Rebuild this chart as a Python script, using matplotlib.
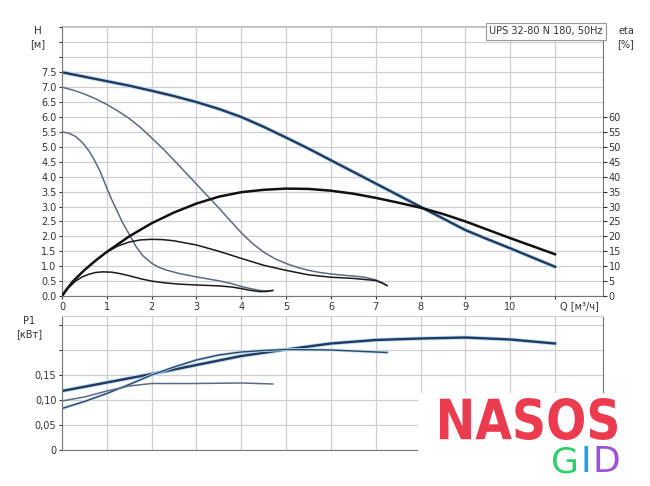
import numpy as np
import matplotlib
matplotlib.use("Agg")
import matplotlib.pyplot as plt
from matplotlib.patches import Rectangle, PathPatch
from matplotlib.textpath import TextPath
from matplotlib.font_manager import FontProperties
from matplotlib.transforms import Affine2D

# Q-H curves, three speeds (Q in m3/h, H in m)
q_max = [0, 0.5, 1, 1.5, 2, 2.5, 3, 3.5, 4, 4.5, 5, 5.5, 6, 6.5, 7, 7.5, 8, 8.5, 9, 9.5, 10, 10.5, 11]
h_max = [7.5, 7.35, 7.2, 7.05, 6.88, 6.7, 6.5, 6.27, 6.0, 5.67, 5.31, 4.94, 4.55, 4.16, 3.77, 3.38,
         2.99, 2.6, 2.21, 1.9, 1.6, 1.29, 0.98]

q_mid = [0, 0.25, 0.5, 0.75, 1, 1.25, 1.5, 1.75, 2, 2.25, 2.5, 2.75, 3, 3.25, 3.5, 3.75, 4, 4.25,
         4.5, 4.75, 5, 5.25, 5.5, 5.75, 6, 6.25, 6.5, 6.75, 7, 7.15, 7.25]
h_mid = [7.0, 6.9, 6.77, 6.61, 6.42, 6.2, 5.95, 5.65, 5.3, 4.94, 4.55, 4.15, 3.75, 3.35, 2.95,
         2.53, 2.12, 1.76, 1.47, 1.25, 1.09, 0.96, 0.86, 0.79, 0.74, 0.70, 0.67, 0.63, 0.54, 0.44, 0.35]

q_low = [0, 0.15, 0.3, 0.45, 0.6, 0.7, 0.85, 1.0, 1.1, 1.22, 1.35, 1.51, 1.65, 1.81, 2.0, 2.15,
         2.33, 2.6, 3.0, 3.5, 3.8, 4.0, 4.2, 4.4, 4.55, 4.7]
h_low = [5.5, 5.46, 5.35, 5.15, 4.87, 4.62, 4.18, 3.62, 3.26, 2.88, 2.46, 2.04, 1.66, 1.34, 1.1,
         0.97, 0.87, 0.76, 0.64, 0.51, 0.41, 0.32, 0.25, 0.19, 0.17, 0.18]

# efficiency curves (%)
q_eta_max = [0, 0.1, 0.25, 0.5, 0.75, 1, 1.5, 2, 2.5, 3, 3.5, 4, 4.5, 5, 5.5, 6, 6.5, 7, 7.5, 8,
             8.5, 9, 9.5, 10, 10.5, 11]
eta_max = [0, 2.2, 5.0, 8.7, 11.9, 14.8, 20.0, 24.4, 28.0, 31.0, 33.3, 34.8, 35.6, 36.0, 35.9,
           35.3, 34.3, 32.9, 31.3, 29.6, 27.5, 25.0, 22.2, 19.4, 16.7, 14.0]

q_eta_mid = [0, 0.1, 0.25, 0.5, 0.75, 1, 1.25, 1.5, 1.75, 2, 2.25, 2.5, 3, 3.5, 4, 4.5, 5, 5.5,
             6, 6.5, 7, 7.15, 7.25]
eta_mid = [0, 2.2, 5.0, 8.7, 11.9, 14.7, 16.8, 18.1, 18.8, 19.0, 18.9, 18.5, 17.1, 15.0, 12.6,
           10.3, 8.6, 7.1, 6.3, 5.9, 5.2, 4.3, 3.5]

q_eta_low = [0, 0.15, 0.3, 0.45, 0.6, 0.75, 0.9, 1.1, 1.3, 1.5, 1.75, 2.0, 2.3, 2.6, 3.0, 3.5,
             3.8, 4.0, 4.2, 4.4, 4.55, 4.7]
eta_low = [0, 2.8, 5.0, 6.4, 7.3, 7.9, 8.1, 8.0, 7.5, 6.8, 5.8, 5.0, 4.4, 4.0, 3.7, 3.4, 3.0,
           2.5, 1.9, 1.5, 1.5, 1.9]

# power input P1 (kW)
q_p_max = [0, 1, 2, 3, 4, 5, 6, 7, 8, 9, 10, 11]
p_max = [0.118, 0.135, 0.152, 0.170, 0.188, 0.201, 0.213, 0.220, 0.223, 0.225, 0.221, 0.213]

q_p_mid = [0, 0.5, 1, 1.5, 2, 2.5, 3, 3.5, 4, 4.5, 5, 6, 7, 7.25]
p_mid = [0.083, 0.097, 0.113, 0.131, 0.150, 0.166, 0.180, 0.190, 0.196, 0.199, 0.201, 0.200,
         0.196, 0.195]

q_p_low = [0, 0.5, 1, 1.5, 2, 3, 4, 4.7]
p_low = [0.098, 0.106, 0.118, 0.128, 0.133, 0.133, 0.134, 0.132]

q_ticks = list(range(0, 12))
h_ticks = list(np.arange(0, 9.01, 0.5))
eta_ticks = list(range(0, 61, 5))
p_ticks = [0, 0.05, 0.10, 0.15, 0.20, 0.25]
p_labels = ["0", "0,05", "0,10", "0,15", "", ""]

title = "UPS 32-80 N 180, 50Hz"

plt.rcParams['font.family'] = ['DejaVu Sans']
txt = '#333333'
grid_c = '#cfcfcf'
navy = '#1f3b60'
halo = '#c3dcf2'
grey_blue = '#5b6b85'

fig = plt.figure(figsize=(6.5, 4.86), dpi=100)
ax = fig.add_axes([0.0954, 0.3909, 0.8323, 0.5556])
axp = fig.add_axes([0.0954, 0.0741, 0.8323, 0.2757])

xmax = 12.07
hmax = 9.05

# ---- top panel ----
ax.set_xlim(0, xmax)
ax.set_ylim(0, hmax)
ax.set_xticks(q_ticks)
ax.set_xticklabels([str(v) for v in q_ticks[:-1]] + [""])
ax.set_yticks(h_ticks)
ax.set_yticklabels(["%.1f" % v if v <= 7.5 else "" for v in h_ticks])
ax.grid(True, color=grid_c, linewidth=0.9)
ax.set_axisbelow(True)
ax.tick_params(labelsize=7, colors=txt, length=2, pad=2)
for s in ['left', 'bottom', 'right']:
    ax.spines[s].set_color('#777777')
ax.spines['top'].set_color('#bbbbbb')

ax.plot(q_max, h_max, color=halo, lw=3.0, solid_capstyle='round')
ax.plot(q_max, h_max, color=navy, lw=1.7)
ax.plot(q_mid, h_mid, color=grey_blue, lw=1.1)
ax.plot(q_low, h_low, color=grey_blue, lw=1.1)

ax2 = ax.twinx()
ax2.set_ylim(0, hmax * 10)
ax2.set_yticks(eta_ticks)
ax2.tick_params(labelsize=7, colors=txt, length=3, pad=1)
for s in ax2.spines.values():
    s.set_visible(False)
ax2.plot(q_eta_max, eta_max, color='#111111', lw=1.8)
ax2.plot(q_eta_mid, eta_mid, color='#1a1a1a', lw=1.1)
ax2.plot(q_eta_low, eta_low, color='#1a1a1a', lw=1.1)

ax.text(0.999, 0.999, title, transform=ax.transAxes, ha='right', va='top', fontsize=7, color=txt,
        bbox=dict(boxstyle='square,pad=0.35', facecolor='white', edgecolor='#999999', linewidth=0.8),
        zorder=10)
ax.text(11.55, -0.16, "Q [м³/ч]", ha='center', va='top', fontsize=7, color=txt)

fig.text(38 / 650, 1 - 31 / 486, "H", ha='center', va='center', fontsize=7.5, color=txt)
fig.text(38 / 650, 1 - 44 / 486, "[м]", ha='center', va='center', fontsize=7, color=txt)
fig.text(626 / 650, 1 - 31 / 486, "eta", ha='center', va='center', fontsize=7, color=txt)
fig.text(626 / 650, 1 - 44 / 486, "[%]", ha='center', va='center', fontsize=7, color=txt)

# ---- bottom panel ----
axp.set_xlim(0, xmax)
axp.set_ylim(0, 0.268)
axp.set_xticks(q_ticks)
axp.set_xticklabels([])
axp.set_yticks(p_ticks)
axp.set_yticklabels(p_labels)
axp.grid(True, color=grid_c, linewidth=0.9)
axp.set_axisbelow(True)
axp.tick_params(labelsize=7, colors=txt, length=2, pad=2)
axp.tick_params(axis='x', length=0)
for s in ['left', 'bottom', 'right']:
    axp.spines[s].set_color('#777777')
axp.spines['top'].set_color('#cfcfcf')

axp.plot(q_p_max, p_max, color=halo, lw=3.0)
axp.plot(q_p_max, p_max, color=navy, lw=1.7)
axp.plot(q_p_mid, p_mid, color=halo, lw=2.2)
axp.plot(q_p_mid, p_mid, color='#2b4866', lw=1.0)
axp.plot(q_p_low, p_low, color=grey_blue, lw=1.1)

fig.text(29 / 650, 1 - 321 / 486, "P1", ha='center', va='center', fontsize=7, color=txt)
fig.text(29 / 650, 1 - 334 / 486, "[кВт]", ha='center', va='center', fontsize=7, color=txt)

# ---- logo block ----
fig.add_artist(Rectangle((418 / 650, 0), 1 - 418 / 650, (486 - 393) / 486,
                         transform=fig.transFigure, facecolor='white', edgecolor='none', zorder=20))

fp = FontProperties(family='DejaVu Sans', weight='bold')
tp = TextPath((0, 0), "NASOS", size=1, prop=fp)
ext = tp.get_extents()
x0, x1 = 440 / 650, 617 / 650
y0, y1 = (486 - 440) / 486, (486 - 398) / 486
tr = (Affine2D().translate(-ext.x0, -ext.y0)
      .scale((x1 - x0) / ext.width, (y1 - y0) / ext.height)
      .translate(x0, y0) + fig.transFigure)
fig.add_artist(PathPatch(tp, transform=tr, facecolor='#ec3a4f', edgecolor='none', zorder=21))

gid = [("G", 551, '#2fd06b'), ("I", 580, '#1fa0e6'), ("D", 592, '#9b50de')]
for ch, xp, col in gid:
    fig.text(xp / 650, (486 - 472) / 486, ch, ha='left', va='baseline', fontsize=26,
             color=col, zorder=22)

fig.savefig("out.png", dpi=100)
